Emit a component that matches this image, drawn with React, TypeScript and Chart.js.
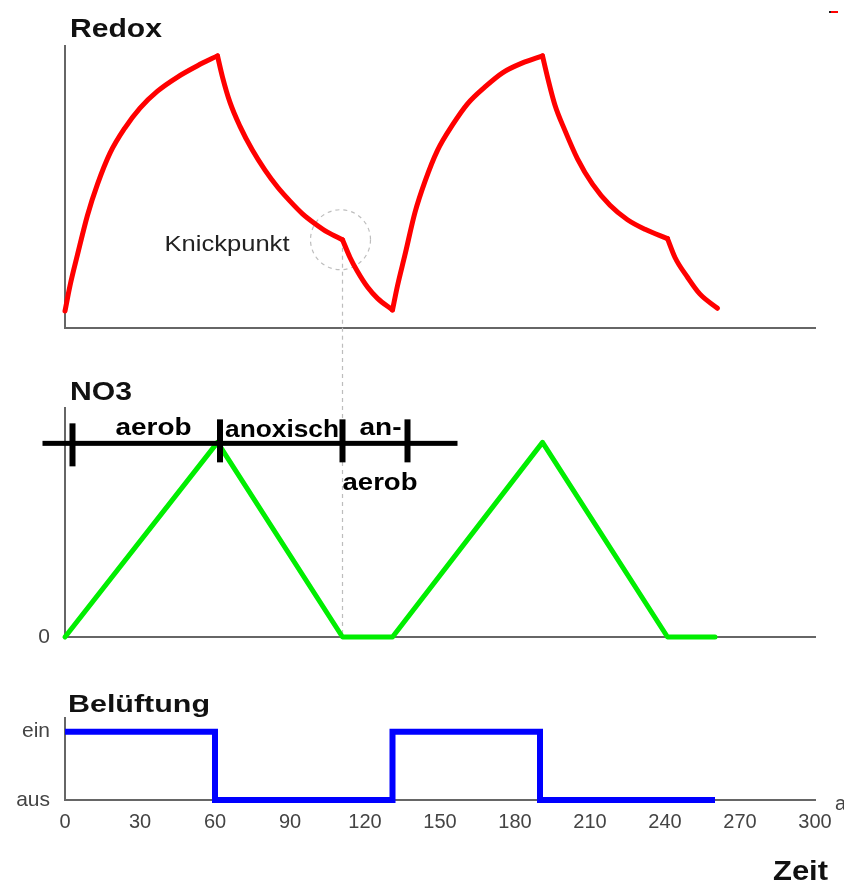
import React, { useEffect, useRef } from 'react';
import { Chart, registerables } from 'chart.js';

Chart.register(...registerables);

const FONT = '"Liberation Sans", Arial, Helvetica, sans-serif';

// ---- data (time in minutes) ----
const xMin = 0;
const xMax = 300;
const xStep = 30;

// Redox potential (relative units, 0..100), drawn in smooth segments between kinks
const redoxRise1 = [[0, 6], [2, 15], [5, 26], [9, 40], [13, 51], [18, 62], [24, 71], [30, 78], [37, 84], [45, 89], [53, 93], [61, 96.5]];
const redoxFall1 = [[61, 96.5], [63, 89], [66, 80], [70, 71.5], [75, 63], [80, 56], [85, 50], [90, 45], [95, 40.5], [100, 37], [105, 34], [111, 31.3]];
const redoxDrop1 = [[111, 31.3], [114, 25], [117, 20], [121, 14.5], [125, 10.5], [131, 6.4]];
const redoxRise2 = [[131, 6.4], [133, 15], [136, 26], [140, 41], [144, 52], [149, 63], [155, 72], [161, 79.5], [168, 85.5], [175, 90.5], [183, 94], [191, 96.5]];
const redoxFall2 = [[191, 96.5], [193, 89], [196, 79], [200, 70], [205, 60], [211, 51], [218, 43.5], [225, 38.4], [232, 35], [241, 31.7]];
const redoxDrop2 = [[241, 31.7], [244, 25], [249, 18], [254, 12], [261, 7]];
const redoxSegments = [redoxRise1, redoxFall1, redoxDrop1, redoxRise2, redoxFall2, redoxDrop2];

// NO3 (relative units, 0..100)
const no3Values = [[0, 0], [61, 85], [111, 0], [131, 0], [191, 85], [241, 0], [260, 0]];
const no3TickValues = [0];
const no3TickLabels = ['0'];

// Aeration state (0 = aus, 1 = ein)
const aerationValues = [[0, 1], [60, 0], [131, 1], [190, 0], [260, 0]];
const aerationTickValues = [0, 1];
const aerationTickLabels = ['aus', 'ein'];

// annotations
const knickPoint = [111, 31.3];
const knickLabel = 'Knickpunkt';
const phaseBarLevel = 85;
const phaseBarRange = [-9, 157];
const phaseBoundaries = [3, 62, 111, 137];
const phaseLabels = ['aerob', 'anoxisch', 'an-', 'aerob'];
const panelTitles = ['Redox', 'NO3', 'Belüftung'];
const xAxisTitle = 'Zeit';

const AXIS_COLOR = '#666';

function drawFit(ctx: CanvasRenderingContext2D, text: string, left: number, baseline: number, width: number, font: string, color: string) {
  ctx.save();
  ctx.font = font;
  ctx.fillStyle = color;
  ctx.textAlign = 'left';
  ctx.textBaseline = 'alphabetic';
  const w = ctx.measureText(text).width || 1;
  ctx.translate(left, baseline);
  ctx.scale(width / w, 1);
  ctx.fillText(text, 0, 0);
  ctx.restore();
}

function xScale(showTicks: boolean, boxHeight: number) {
  return {
    type: 'linear',
    min: xMin,
    max: xMax,
    grid: { display: false, drawTicks: false },
    border: { display: true, color: AXIS_COLOR, width: 2 },
    ticks: {
      display: showTicks,
      stepSize: xStep,
      autoSkip: false,
      maxRotation: 0,
      padding: 10,
      color: '#444',
      font: { family: FONT, size: 20 },
    },
    afterFit: (s: any) => {
      s.height = boxHeight;
      s.paddingLeft = 0;
      s.paddingRight = 0;
    },
  };
}

function yScale(max: number, boxWidth: number, tickValues?: number[], tickLabels?: string[]) {
  return {
    type: 'linear',
    min: 0,
    max,
    grid: { display: false, drawTicks: false },
    border: { display: true, color: AXIS_COLOR, width: 2 },
    ticks: {
      display: !!tickValues,
      padding: 15,
      color: '#444',
      font: { family: FONT, size: 21 },
      callback: (v: number) => {
        if (!tickValues || !tickLabels) return '';
        const i = tickValues.indexOf(v);
        return i >= 0 ? tickLabels[i] : '';
      },
    },
    afterBuildTicks: (s: any) => {
      if (tickValues) s.ticks = tickValues.map((v) => ({ value: v }));
    },
    afterFit: (s: any) => {
      s.width = boxWidth;
      s.paddingTop = 0;
      s.paddingBottom = 0;
    },
  };
}

function lineDataset(points: number[][], color: string, extra: any = {}) {
  return {
    data: points.map(([x, y]) => ({ x, y })),
    borderColor: color,
    backgroundColor: color,
    borderWidth: 5,
    pointRadius: 0,
    fill: false,
    clip: false,
    borderJoinStyle: 'round',
    borderCapStyle: 'round',
    ...extra,
  };
}

const baseOptions = (padding: any) => ({
  animation: false,
  responsive: false,
  events: [],
  layout: { padding },
  plugins: { legend: { display: false }, tooltip: { enabled: false }, title: { display: false } },
});

export default function App() {
  const redoxRef = useRef<HTMLCanvasElement>(null);
  const no3Ref = useRef<HTMLCanvasElement>(null);
  const airRef = useRef<HTMLCanvasElement>(null);

  useEffect(() => {
    const charts: Chart[] = [];

    // ---------- Redox ----------
    const redoxPlugin = {
      id: 'redoxDecor',
      beforeDatasetsDraw(chart: any) {
        const { ctx } = chart;
        const xs = chart.scales.x;
        const ys = chart.scales.y;
        const kx = xs.getPixelForValue(knickPoint[0]);
        const ky = ys.getPixelForValue(knickPoint[1]);
        ctx.save();
        ctx.strokeStyle = '#bdbdbd';
        ctx.lineWidth = 1.2;
        ctx.setLineDash([4, 4]);
        ctx.beginPath();
        ctx.arc(kx - 2, ky, 30, 0, Math.PI * 2);
        ctx.stroke();
        ctx.beginPath();
        ctx.moveTo(kx, ky);
        ctx.lineTo(kx, chart.height);
        ctx.stroke();
        ctx.restore();
      },
      afterDraw(chart: any) {
        const { ctx, chartArea } = chart;
        const xs = chart.scales.x;
        const ys = chart.scales.y;
        drawFit(ctx, panelTitles[0], chartArea.left + 5, chartArea.top - 9, 92, `bold 26px ${FONT}`, '#111');
        const kx = xs.getPixelForValue(knickPoint[0]);
        const ky = ys.getPixelForValue(knickPoint[1]);
        drawFit(ctx, knickLabel, kx - 53 - 125, ky + 11, 125, `22px ${FONT}`, '#222');
        ctx.save();
        ctx.fillStyle = '#222';
        ctx.fillRect(829, 11, 2, 2);
        ctx.fillStyle = '#ff0000';
        ctx.fillRect(831, 11, 7, 2);
        ctx.restore();
      },
    };
    if (redoxRef.current) {
      charts.push(new Chart(redoxRef.current, {
        type: 'line',
        data: {
          datasets: redoxSegments.map((seg) => lineDataset(seg, '#ff0000', { cubicInterpolationMode: 'monotone' })),
        },
        options: {
          ...baseOptions({ left: 0, right: 29, top: 46, bottom: 22 }),
          scales: { x: xScale(false, 0), y: yScale(100, 65) },
        } as any,
        plugins: [redoxPlugin],
      } as any));
    }

    // ---------- NO3 ----------
    const no3Plugin = {
      id: 'no3Decor',
      beforeDatasetsDraw(chart: any) {
        const { ctx, chartArea } = chart;
        const xs = chart.scales.x;
        const kx = xs.getPixelForValue(knickPoint[0]);
        ctx.save();
        ctx.strokeStyle = '#bdbdbd';
        ctx.lineWidth = 1.2;
        ctx.setLineDash([4, 4]);
        ctx.beginPath();
        ctx.moveTo(kx, 0);
        ctx.lineTo(kx, chartArea.bottom);
        ctx.stroke();
        ctx.restore();
      },
      afterDraw(chart: any) {
        const { ctx, chartArea } = chart;
        const xs = chart.scales.x;
        const ys = chart.scales.y;
        drawFit(ctx, panelTitles[1], chartArea.left + 5, chartArea.top - 8, 62, `bold 25px ${FONT}`, '#111');
        const barY = ys.getPixelForValue(phaseBarLevel) + 1;
        ctx.save();
        ctx.fillStyle = '#000';
        const bx0 = xs.getPixelForValue(phaseBarRange[0]);
        const bx1 = xs.getPixelForValue(phaseBarRange[1]);
        ctx.fillRect(bx0, barY - 2.5, bx1 - bx0, 5);
        const tx = phaseBoundaries.map((b) => xs.getPixelForValue(b));
        tx.forEach((x, i) => {
          const top = i === 0 ? barY - 20 : barY - 24;
          ctx.fillRect(x - 3, top, 6, 43);
        });
        ctx.restore();
        const bold = `bold 24px ${FONT}`;
        drawFit(ctx, phaseLabels[0], tx[0] + 43, barY - 8, 76, bold, '#000');
        drawFit(ctx, phaseLabels[1], tx[1] + 5, barY - 6, 114, bold, '#000');
        drawFit(ctx, phaseLabels[2], tx[2] + 17, barY - 8, 42, bold, '#000');
        drawFit(ctx, phaseLabels[3], tx[2], barY + 47, 75, bold, '#000');
      },
    };
    if (no3Ref.current) {
      charts.push(new Chart(no3Ref.current, {
        type: 'line',
        data: { datasets: [lineDataset(no3Values, '#00ee00')] },
        options: {
          ...baseOptions({ left: 0, right: 29, top: 58, bottom: 0 }),
          scales: { x: xScale(false, 13), y: yScale(100, 65, no3TickValues, no3TickLabels) },
        } as any,
        plugins: [no3Plugin],
      } as any));
    }

    // ---------- Belüftung ----------
    const airPlugin = {
      id: 'airDecor',
      afterDraw(chart: any) {
        const { ctx, chartArea } = chart;
        drawFit(ctx, panelTitles[2], chartArea.left + 3, chartArea.top - 6, 142, `bold 24px ${FONT}`, '#111');
        drawFit(ctx, xAxisTitle, chartArea.right + 13 - 55, chartArea.bottom + 80, 55, `bold 27px ${FONT}`, '#111');
        ctx.save();
        ctx.font = `20px ${FONT}`;
        ctx.fillStyle = '#444';
        ctx.textBaseline = 'alphabetic';
        ctx.fillText('a', chartArea.right + 20, chartArea.bottom + 10);
        ctx.restore();
      },
    };
    if (airRef.current) {
      charts.push(new Chart(airRef.current, {
        type: 'line',
        data: { datasets: [lineDataset(aerationValues, '#0000ff', { stepped: 'before', borderJoinStyle: 'miter', borderCapStyle: 'butt', borderWidth: 6 })] },
        options: {
          ...baseOptions({ left: 0, right: 29, top: 68, bottom: 0 }),
          scales: { x: xScale(true, 83), y: yScale(1.2, 49, aerationTickValues, aerationTickLabels) },
        } as any,
        plugins: [airPlugin],
      } as any));
    }

    return () => { charts.forEach((c) => c.destroy()); };
  }, []);

  return (
    <div style={{ position: 'absolute', left: 0, top: 0, width: 844, height: 883, background: '#fff', overflow: 'hidden' }}>
      <canvas ref={redoxRef} width={844} height={350} style={{ position: 'absolute', left: 0, top: 0, width: 844, height: 350 }} />
      <canvas ref={no3Ref} width={844} height={300} style={{ position: 'absolute', left: 0, top: 350, width: 844, height: 300 }} />
      <canvas ref={airRef} width={828} height={233} style={{ position: 'absolute', left: 16, top: 650, width: 828, height: 233 }} />
    </div>
  );
}
